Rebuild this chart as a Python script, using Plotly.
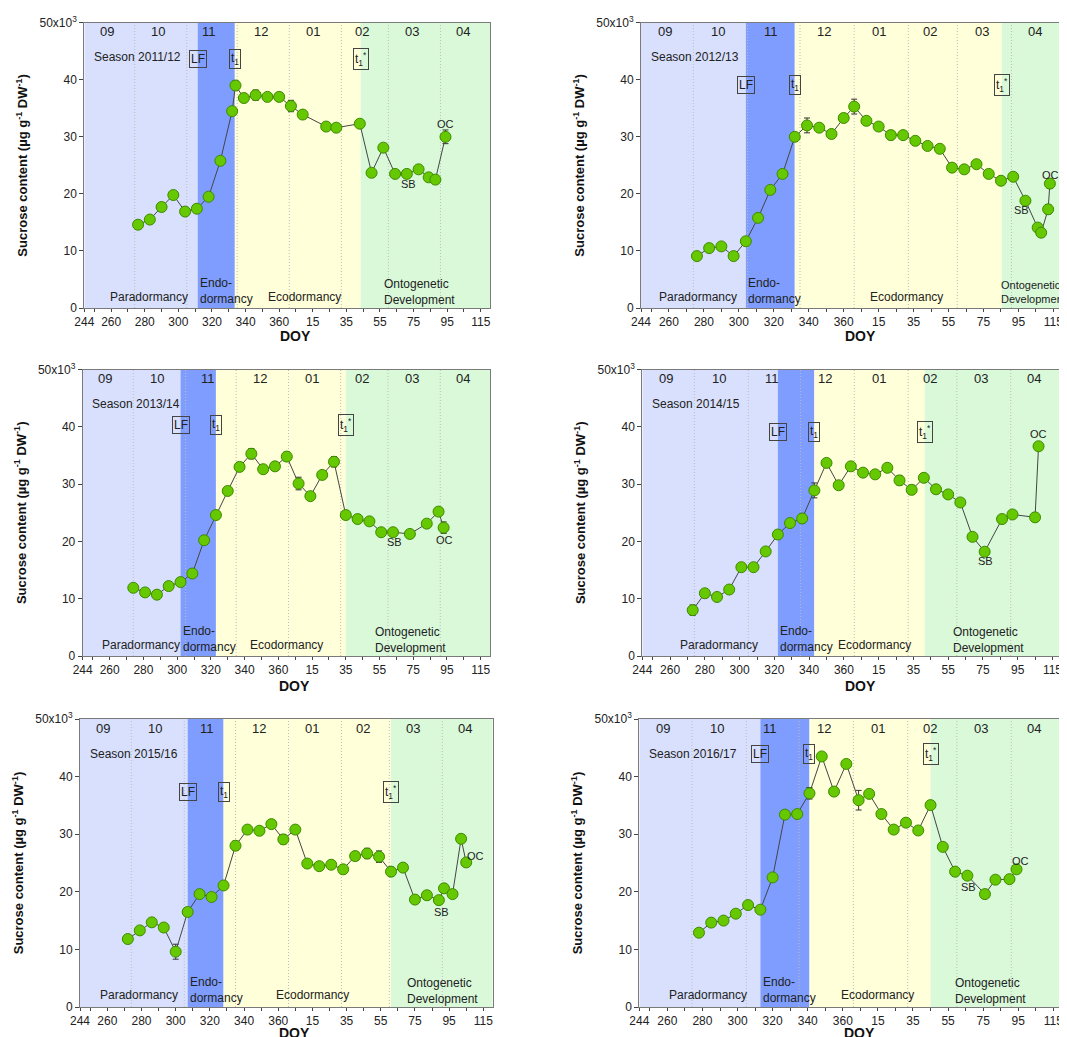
import plotly.graph_objects as go

# ---------------- data (sucrose content in units of 10^3 ug g-1 DW-1) ----------------
season_names = ["Season 2011/12", "Season 2012/13", "Season 2013/14",
                "Season 2014/15", "Season 2015/16", "Season 2016/17"]

doy_1112 = [276, 283, 290, 297, 304, 311, 318, 325, 332, 334, 339, 346, 353, 360, 2, 9, 23, 29, 43, 50, 57, 64, 71, 78, 84, 88, 94]
suc_1112 = [14.6, 15.5, 17.7, 19.8, 16.9, 17.4, 19.5, 25.8, 34.5, 39.0, 36.8, 37.3, 37.0, 37.0, 35.4, 33.9, 31.8, 31.6, 32.3, 23.7, 28.1, 23.5, 23.5, 24.3, 22.9, 22.5, 30.0]
err_1112 = [0.3, 0.3, 0.3, 0.3, 0.3, 0.3, 0.3, 0.6, 0.4, 0.8, 0.7, 0.9, 0.6, 0.7, 1.0, 0.4, 0.4, 0.7, 0.5, 0.3, 0.5, 0.5, 0.6, 0.4, 0.6, 0.7, 1.2]

doy_1213 = [276, 283, 290, 297, 304, 311, 318, 325, 332, 339, 346, 353, 360, 1, 8, 15, 22, 29, 36, 43, 50, 57, 64, 71, 78, 85, 92, 99, 106, 108, 112, 113]
suc_1213 = [9.1, 10.5, 10.8, 9.1, 11.7, 15.8, 20.7, 23.5, 30.0, 32.0, 31.6, 30.5, 33.3, 35.3, 32.8, 31.8, 30.3, 30.3, 29.3, 28.4, 27.9, 24.6, 24.3, 25.2, 23.5, 22.3, 23.0, 18.8, 14.1, 13.2, 17.3, 21.8]
err_1213 = [0.3, 0.3, 0.3, 0.3, 0.3, 0.3, 0.5, 0.3, 0.3, 1.3, 0.4, 0.5, 0.4, 1.3, 0.5, 0.5, 0.8, 0.5, 0.5, 0.4, 0.4, 0.5, 0.6, 0.6, 0.4, 0.5, 0.4, 0.5, 0.6, 0.4, 0.8, 0.8]

doy_1314 = [274, 281, 288, 295, 302, 309, 316, 323, 330, 337, 344, 351, 358, 365, 7, 14, 21, 28, 35, 42, 49, 56, 63, 73, 83, 90, 93]
suc_1314 = [11.9, 11.1, 10.7, 12.2, 12.9, 14.4, 20.2, 24.6, 28.8, 33.0, 35.3, 32.6, 33.1, 34.8, 30.1, 27.9, 31.6, 33.9, 24.6, 23.9, 23.5, 21.6, 21.6, 21.3, 23.1, 25.2, 22.4]
err_1314 = [0.3, 0.3, 0.3, 0.3, 0.3, 0.3, 0.5, 0.5, 0.4, 0.8, 0.9, 0.6, 0.7, 0.8, 1.1, 0.5, 0.6, 0.9, 0.4, 0.4, 0.4, 0.4, 0.4, 0.4, 0.5, 0.4, 1.0]

doy_1415 = [273, 280, 287, 294, 301, 308, 315, 322, 329, 336, 343, 350, 357, 364, 6, 13, 20, 27, 34, 41, 48, 55, 62, 69, 76, 86, 92, 105, 107]
suc_1415 = [8.0, 10.95, 10.3, 11.6, 15.5, 15.5, 18.25, 21.2, 23.2, 24.0, 28.9, 33.7, 29.8, 33.1, 32.0, 31.7, 32.85, 30.65, 29.0, 31.1, 29.1, 28.2, 26.8, 20.8, 18.2, 23.9, 24.7, 24.2, 36.6]
err_1415 = [0.9, 0.4, 0.4, 0.4, 0.4, 0.4, 0.4, 0.7, 0.4, 0.8, 1.3, 0.4, 0.6, 0.4, 0.4, 0.4, 0.7, 0.8, 0.8, 0.6, 0.6, 0.6, 0.4, 0.4, 0.4, 0.4, 0.5, 0.4, 0.5]

doy_1516 = [272, 279, 286, 293, 300, 307, 314, 321, 328, 335, 342, 349, 356, 363, 5, 12, 19, 26, 33, 40, 47, 54, 61, 68, 75, 82, 89, 92, 97, 102, 105]
suc_1516 = [11.8, 13.3, 14.7, 13.8, 9.6, 16.5, 19.6, 19.1, 21.1, 28.0, 30.8, 30.6, 31.75, 29.1, 30.8, 24.9, 24.45, 24.7, 23.9, 26.2, 26.65, 26.1, 23.5, 24.2, 18.65, 19.4, 18.55, 20.6, 19.6, 29.2, 25.1]
err_1516 = [0.3, 0.4, 0.5, 0.4, 1.3, 0.4, 0.4, 0.4, 0.4, 0.8, 0.7, 0.4, 0.6, 0.8, 0.5, 0.4, 0.4, 0.4, 0.4, 0.7, 0.9, 1.0, 0.8, 0.4, 0.4, 0.4, 0.4, 0.4, 0.4, 0.4, 0.4]

doy_1617 = [278, 285, 292, 299, 306, 313, 320, 327, 334, 341, 348, 355, 362, 4, 10, 17, 24, 31, 38, 45, 52, 59, 66, 76, 82, 90, 94]
suc_1617 = [12.9, 14.65, 15.0, 16.2, 17.7, 16.9, 22.5, 33.4, 33.5, 37.1, 43.5, 37.4, 42.2, 35.9, 37.0, 33.5, 30.8, 32.0, 30.65, 35.05, 27.8, 23.5, 22.8, 19.6, 22.1, 22.2, 23.9]
err_1617 = [0.3, 0.3, 0.3, 0.3, 0.3, 0.3, 0.4, 0.4, 0.4, 1.0, 0.6, 0.6, 0.4, 1.7, 0.5, 0.4, 0.4, 0.4, 0.4, 0.4, 0.4, 0.4, 0.4, 0.4, 0.4, 0.4, 0.4]

# phase transitions (DOY): leaf fall (LF), t1, t1*
lf_doy = [311.5, 304, 302, 322, 307, 313]
t1_doy = [333.6, 332, 323, 343, 328, 341]
t1s_doy = [43.5, 85.5, 35, 41.5, 61, 45]

month_labels = ["09", "10", "11", "12", "01", "02", "03", "04"]
month_start_doy = [244, 274, 305, 335, 1, 32, 60, 91, 121]
xtick_doy = [244, 260, 280, 300, 320, 340, 360, 15, 35, 55, 75, 95, 115]
ytick_vals = [0, 10, 20, 30, 40, 50]
ytick_text = ["0", "10", "20", "30", "40", "50x10<sup>3</sup>"]
phase_names = ["Paradormancy", "Endo-<br>dormancy", "Ecodormancy", "Ontogenetic<br>Development"]

series = [(doy_1112, suc_1112, err_1112), (doy_1213, suc_1213, err_1213),
          (doy_1314, suc_1314, err_1314), (doy_1415, suc_1415, err_1415),
          (doy_1516, suc_1516, err_1516), (doy_1617, suc_1617, err_1617)]


def day_pos(doy):
    """Continuous position along a season axis starting at DOY 244 (1 Sept)."""
    return doy - 244 if doy >= 244 else doy + 121


# ---------------- layout configuration ----------------
OFF = 8  # page body margin
W, H = 1067 - OFF, 1037 - OFF
panel_px = [  # left, right, top, bottom in screen pixels
    (84.3, 490.0, 22.7, 308.0),
    (641.0, 1063.0, 22.7, 308.0),
    (82.7, 490.0, 369.5, 656.0),
    (642.3, 1062.0, 369.5, 656.0),
    (80.0, 492.7, 719.0, 1007.0),
    (639.3, 1063.0, 719.0, 1007.0),
]
doy_title_y = [336, 336, 686, 686, 1033, 1033]
label_y = [43.6, 39.1, 40.4, 39.1, 37.3, 43.9]
para_x = [38.6, 32.6, 34.4, 44.0, 34.6, 39.4]
eco_x = [130.8, 151.8, 121.0, 133.5, 136.0, 135.8]
onto_x = [177.0, 205.0, 172.0, 177.4, 190.0, 179.0]
sb_pos = [(193, 21.8), (218, 17.2), (184.6, 19.9), (197.5, 16.5), (211.5, 16.5), (187.5, 20.9)]
oc_pos = [(215.3, 32.2), (234.3, 23.3), (214.4, 20.3), (228, 38.7), (231.5, 26.2), (217.4, 25.4)]

C_PARA = "#d8e0fd"
C_ENDO = "#7f9dff"
C_ECO = "#ffffd9"
C_ONTO = "#d9f9d9"
FONT = "Liberation Sans, Arial, sans-serif"
TXT = "#222222"
X_END = day_pos(120.5)

fig = go.Figure()
shapes, annotations = [], []
layout_axes = {}

for i, (doys, vals, errs) in enumerate(series):
    k = i + 1
    xa, ya = f"x{k}", f"y{k}"
    xs = [day_pos(d) for d in doys]
    fig.add_trace(go.Scatter(
        x=xs, y=vals, xaxis=xa, yaxis=ya, mode="lines+markers",
        line=dict(color="#454545", width=1),
        marker=dict(size=11, color="#66c800", line=dict(color="#3d8a00", width=1)),
        error_y=dict(type="data", array=errs, visible=True, color="#333333", thickness=1, width=3),
        showlegend=False, cliponaxis=False,
    ))

    l, r, t, b = panel_px[i]
    layout_axes[f"xaxis{k}"] = dict(
        domain=[(l - OFF) / W, (r - OFF) / W], anchor=ya, range=[0, X_END],
        tickvals=[day_pos(d) for d in xtick_doy], ticktext=[str(d) for d in xtick_doy],
        ticks="outside", ticklen=3, tickcolor="#444", tickfont=dict(size=12, color=TXT, family=FONT),
        minor=dict(tick0=6, dtick=10, ticks="outside", ticklen=3, tickcolor="#444"),
        showline=True, linecolor="#7a7a7a", linewidth=1, mirror=True,
        showgrid=False, zeroline=False, automargin=False,
    )
    layout_axes[f"yaxis{k}"] = dict(
        domain=[1 - (b - OFF) / H, 1 - (t - OFF) / H], anchor=xa, range=[0, 50],
        tickvals=ytick_vals, ticktext=ytick_text,
        ticks="outside", ticklen=4, tickcolor="#444", tickfont=dict(size=12, color=TXT, family=FONT),
        showline=True, linecolor="#7a7a7a", linewidth=1, mirror=True,
        showgrid=False, zeroline=False, automargin=False,
        title=dict(text="<b>Sucrose content (µg g<sup>-1</sup> DW<sup>-1</sup>)</b>",
                   font=dict(size=13, color="#111", family=FONT), standoff=8),
    )

    # x-axis title as annotation (fixed position)
    annotations.append(dict(xref=xa, yref="paper", x=X_END / 2 + 5, y=1 - (doy_title_y[i] - OFF) / H,
                            yanchor="middle", text="<b>DOY</b>", showarrow=False,
                            font=dict(size=14, color="#111", family=FONT)))

    p_lf, p_t1, p_t1s = day_pos(lf_doy[i]), day_pos(t1_doy[i]), day_pos(t1s_doy[i])
    for x0, x1, col in [(0, p_lf, C_PARA), (p_lf, p_t1, C_ENDO), (p_t1, p_t1s, C_ECO), (p_t1s, X_END, C_ONTO)]:
        shapes.append(dict(type="rect", xref=xa, yref=ya, x0=x0, x1=x1, y0=0, y1=50,
                           fillcolor=col, line=dict(width=0), layer="below"))
    for md in month_start_doy[1:-1]:
        p = day_pos(md)
        shapes.append(dict(type="line", xref=xa, yref=ya, x0=p, x1=p, y0=0, y1=50,
                           line=dict(color="#bdbdbd", width=1, dash="1px,2px"), layer="below"))

    # month labels
    for j, m in enumerate(month_labels):
        a = day_pos(month_start_doy[j])
        bnd = day_pos(month_start_doy[j + 1]) if month_start_doy[j + 1] != 121 else X_END
        annotations.append(dict(xref=xa, yref=ya, x=(a + bnd) / 2 - 1.5, y=48.4, text=m, showarrow=False,
                                font=dict(size=13, color=TXT, family=FONT)))
    # season
    annotations.append(dict(xref=xa, yref=ya, x=4.5, y=44.0, text=season_names[i], showarrow=False,
                            xanchor="left", font=dict(size=12, color=TXT, family=FONT)))
    # boxed markers
    for px, txt in [(p_lf, "LF"), (p_t1, "t<sub>1</sub>"), (p_t1s, "t<sub>1</sub><sup>*</sup>")]:
        annotations.append(dict(xref=xa, yref=ya, x=px, y=label_y[i], text=txt, showarrow=False,
                                bordercolor="#444", borderwidth=1, borderpad=1,
                                font=dict(size=12, color=TXT, family=FONT)))
    # phase names
    annotations.append(dict(xref=xa, yref=ya, x=para_x[i], y=2.0, text=phase_names[0], showarrow=False,
                            font=dict(size=12, color=TXT, family=FONT)))
    annotations.append(dict(xref=xa, yref=ya, x=p_lf + 0.3, y=2.95, text=phase_names[1], showarrow=False,
                            xanchor="left", align="left", font=dict(size=12, color=TXT, family=FONT)))
    annotations.append(dict(xref=xa, yref=ya, x=eco_x[i], y=2.0, text=phase_names[2], showarrow=False,
                            font=dict(size=12, color=TXT, family=FONT)))
    annotations.append(dict(xref=xa, yref=ya, x=onto_x[i], y=2.75, text=phase_names[3], showarrow=False,
                            xanchor="left", align="left",
                            font=dict(size=11 if i == 1 else 12, color=TXT, family=FONT)))
    # SB / OC
    annotations.append(dict(xref=xa, yref=ya, x=sb_pos[i][0], y=sb_pos[i][1], text="SB", showarrow=False,
                            font=dict(size=11, color=TXT, family=FONT)))
    annotations.append(dict(xref=xa, yref=ya, x=oc_pos[i][0], y=oc_pos[i][1], text="OC", showarrow=False,
                            font=dict(size=11, color=TXT, family=FONT)))

fig.update_layout(
    width=W, height=H, template="none",
    margin=dict(l=0, r=0, t=0, b=0),
    paper_bgcolor="white", plot_bgcolor="white",
    font=dict(family=FONT, color=TXT),
    shapes=shapes, annotations=annotations, showlegend=False,
    **layout_axes,
)

fig.write_html("out.html")
